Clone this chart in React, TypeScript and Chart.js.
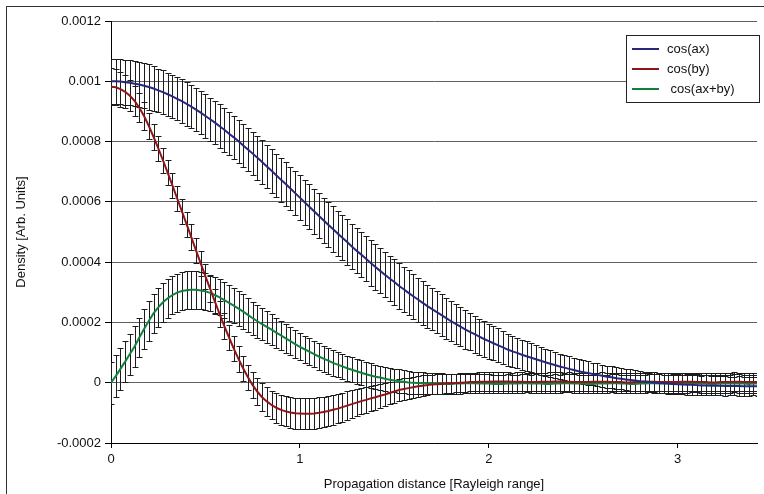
import React, { useEffect, useRef } from 'react';
import { Chart, registerables } from 'chart.js';

Chart.register(...registerables);

const UNIT = 1e-4; // series values below are in units of 1e-4 (Arb. Units)

const propagationDistance = [
  0, 0.025, 0.05, 0.075, 0.1, 0.125, 0.15, 0.175, 0.2, 0.225,
  0.25, 0.275, 0.3, 0.325, 0.35, 0.375, 0.4, 0.425, 0.45, 0.475,
  0.5, 0.525, 0.55, 0.575, 0.6, 0.625, 0.65, 0.675, 0.7, 0.725,
  0.75, 0.775, 0.8, 0.825, 0.85, 0.875, 0.9, 0.925, 0.95, 0.975,
  1, 1.025, 1.05, 1.075, 1.1, 1.125, 1.15, 1.175, 1.2, 1.225,
  1.25, 1.275, 1.3, 1.325, 1.35, 1.375, 1.4, 1.425, 1.45, 1.475,
  1.5, 1.525, 1.55, 1.575, 1.6, 1.625, 1.65, 1.675, 1.7, 1.725,
  1.75, 1.775, 1.8, 1.825, 1.85, 1.875, 1.9, 1.925, 1.95, 1.975,
  2, 2.025, 2.05, 2.075, 2.1, 2.125, 2.15, 2.175, 2.2, 2.225,
  2.25, 2.275, 2.3, 2.325, 2.35, 2.375, 2.4, 2.425, 2.45, 2.475,
  2.5, 2.525, 2.55, 2.575, 2.6, 2.625, 2.65, 2.675, 2.7, 2.725,
  2.75, 2.775, 2.8, 2.825, 2.85, 2.875, 2.9, 2.925, 2.95, 2.975,
  3, 3.025, 3.05, 3.075, 3.1, 3.125, 3.15, 3.175, 3.2, 3.225,
  3.25, 3.275, 3.3, 3.325, 3.35, 3.375, 3.4, 3.425,
];

const cosAx = [
  10.0, 10.0, 9.99, 9.97, 9.95, 9.92, 9.89, 9.85, 9.81, 9.76,
  9.70, 9.64, 9.57, 9.50, 9.42, 9.34, 9.25, 9.16, 9.06, 8.96,
  8.85, 8.74, 8.63, 8.51, 8.39, 8.26, 8.14, 8.01, 7.87, 7.74,
  7.60, 7.46, 7.32, 7.17, 7.03, 6.88, 6.73, 6.59, 6.44, 6.29,
  6.14, 5.99, 5.84, 5.69, 5.54, 5.39, 5.24, 5.10, 4.95, 4.81,
  4.67, 4.52, 4.38, 4.25, 4.11, 3.97, 3.84, 3.71, 3.58, 3.46,
  3.34, 3.21, 3.10, 2.98, 2.87, 2.76, 2.65, 2.54, 2.44, 2.34,
  2.24, 2.14, 2.04, 1.95, 1.86, 1.77, 1.69, 1.61, 1.53, 1.45,
  1.38, 1.31, 1.24, 1.17, 1.10, 1.04, 0.99, 0.93, 0.88, 0.83,
  0.78, 0.73, 0.68, 0.63, 0.59, 0.54, 0.50, 0.46, 0.42, 0.38,
  0.35, 0.32, 0.29, 0.26, 0.23, 0.20, 0.18, 0.15, 0.13, 0.11,
  0.09, 0.07, 0.05, 0.04, 0.02, 0.01, -0.01, -0.02, -0.03, -0.04,
  -0.05, -0.06, -0.07, -0.07, -0.08, -0.09, -0.09, -0.10, -0.10, -0.10,
  -0.11, -0.11, -0.11, -0.11, -0.12, -0.12, -0.12, -0.12,
];

const cosBy = [
  9.82, 9.80, 9.74, 9.65, 9.52, 9.35, 9.12, 8.85, 8.52, 8.16,
  7.78, 7.38, 6.97, 6.55, 6.12, 5.69, 5.26, 4.83, 4.39, 3.96,
  3.53, 3.11, 2.69, 2.28, 1.88, 1.50, 1.13, 0.79, 0.47, 0.18,
  -0.08, -0.30, -0.48, -0.62, -0.74, -0.83, -0.90, -0.95, -0.99, -1.01,
  -1.02, -1.03, -1.03, -1.02, -1.00, -0.97, -0.94, -0.90, -0.86, -0.81,
  -0.76, -0.71, -0.66, -0.61, -0.57, -0.52, -0.48, -0.43, -0.39, -0.34,
  -0.29, -0.24, -0.21, -0.18, -0.15, -0.12, -0.10, -0.08, -0.06, -0.05,
  -0.04, -0.03, -0.02, -0.01, 0.00, 0.01, 0.02, 0.02, 0.03, 0.03,
  0.03, 0.04, 0.04, 0.04, 0.04, 0.03, 0.03, 0.03, 0.02, 0.02,
  0.02, 0.03, 0.03, 0.03, 0.04, 0.04, 0.03, 0.03, 0.02, 0.02,
  0.02, 0.02, 0.03, 0.03, 0.03, 0.03, 0.02, 0.02, 0.02, 0.01,
  0.01, 0.02, 0.02, 0.03, 0.03, 0.03, 0.02, 0.02, 0.02, 0.02,
  0.02, 0.03, 0.03, 0.03, 0.02, 0.02, 0.02, 0.01, 0.01, 0.02,
  0.02, 0.02, 0.03, 0.03, 0.02, 0.02, 0.02, 0.02,
];

const cosAxBy = [
  0.00, 0.22, 0.46, 0.70, 0.95, 1.20, 1.50, 1.78, 2.05, 2.30,
  2.50, 2.67, 2.80, 2.91, 2.99, 3.04, 3.07, 3.08, 3.08, 3.06,
  3.03, 2.98, 2.91, 2.83, 2.74, 2.65, 2.56, 2.46, 2.36, 2.25,
  2.14, 2.04, 1.94, 1.85, 1.76, 1.66, 1.57, 1.47, 1.38, 1.28,
  1.19, 1.11, 1.03, 0.95, 0.87, 0.80, 0.73, 0.66, 0.60, 0.54,
  0.48, 0.43, 0.38, 0.33, 0.28, 0.24, 0.20, 0.17, 0.13, 0.10,
  0.07, 0.05, 0.03, 0.01, 0.00, -0.01, -0.02, -0.03, -0.03, -0.03,
  -0.03, -0.04, -0.04, -0.03, -0.03, -0.02, -0.02, -0.02, -0.03, -0.03,
  -0.03, -0.04, -0.04, -0.04, -0.03, -0.03, -0.03, -0.02, -0.02, -0.03,
  -0.03, -0.03, -0.04, -0.04, -0.03, -0.03, -0.02, -0.02, -0.03, -0.03,
  -0.03, -0.04, -0.04, -0.03, -0.03, -0.03, -0.02, -0.02, -0.03, -0.03,
  -0.04, -0.04, -0.03, -0.03, -0.02, -0.02, -0.03, -0.03, -0.03, -0.04,
  -0.04, -0.03, -0.03, -0.02, -0.02, -0.03, -0.03, -0.04, -0.04, -0.03,
  -0.03, -0.03, -0.02, -0.03, -0.03, -0.04, -0.03, -0.03,
];

const cosAxError = [
  0.75, 0.75, 0.75, 0.75, 0.75, 0.75, 0.75, 0.75, 0.75, 0.75,
  0.72, 0.72, 0.72, 0.72, 0.72, 0.72, 0.72, 0.72, 0.72, 0.72,
  0.72, 0.72, 0.72, 0.72, 0.72, 0.72, 0.72, 0.72, 0.72, 0.72,
  0.72, 0.72, 0.72, 0.72, 0.72, 0.72, 0.72, 0.72, 0.72, 0.72,
  0.75, 0.75, 0.75, 0.75, 0.75, 0.75, 0.75, 0.75, 0.75, 0.75,
  0.75, 0.75, 0.75, 0.75, 0.75, 0.75, 0.75, 0.75, 0.75, 0.75,
  0.75, 0.75, 0.75, 0.75, 0.75, 0.73, 0.72, 0.71, 0.70, 0.70,
  0.69, 0.68, 0.67, 0.66, 0.65, 0.64, 0.62, 0.61, 0.60, 0.59,
  0.58, 0.57, 0.56, 0.54, 0.53, 0.52, 0.51, 0.50, 0.49, 0.48,
  0.47, 0.46, 0.45, 0.44, 0.43, 0.42, 0.42, 0.41, 0.40, 0.40,
  0.39, 0.39, 0.38, 0.38, 0.37, 0.37, 0.36, 0.36, 0.35, 0.35,
  0.35, 0.34, 0.34, 0.33, 0.34, 0.34, 0.33, 0.33, 0.34, 0.33,
  0.33, 0.32, 0.33, 0.33, 0.32, 0.32, 0.33, 0.32, 0.31, 0.32,
  0.32, 0.31, 0.31, 0.32, 0.31, 0.31, 0.30, 0.31,
];

const cosByError = [
  0.62, 0.60, 0.58, 0.55, 0.52, 0.50, 0.48, 0.46, 0.44, 0.43,
  0.42, 0.42, 0.42, 0.42, 0.42, 0.42, 0.42, 0.42, 0.42, 0.42,
  0.42, 0.42, 0.42, 0.42, 0.42, 0.42, 0.42, 0.42, 0.42, 0.42,
  0.44, 0.45, 0.46, 0.47, 0.48, 0.49, 0.50, 0.50, 0.51, 0.51,
  0.52, 0.52, 0.52, 0.52, 0.51, 0.51, 0.50, 0.50, 0.49, 0.48,
  0.47, 0.46, 0.45, 0.44, 0.43, 0.42, 0.41, 0.40, 0.39, 0.38,
  0.37, 0.36, 0.36, 0.35, 0.35, 0.34, 0.34, 0.33, 0.33, 0.33,
  0.32, 0.32, 0.32, 0.31, 0.32, 0.32, 0.31, 0.31, 0.32, 0.31,
  0.31, 0.31, 0.32, 0.31, 0.31, 0.30, 0.31, 0.31, 0.30, 0.31,
  0.31, 0.30, 0.30, 0.31, 0.31, 0.30, 0.30, 0.31, 0.30, 0.30,
  0.31, 0.30, 0.30, 0.30, 0.31, 0.30, 0.30, 0.31, 0.30, 0.30,
  0.30, 0.31, 0.30, 0.30, 0.30, 0.31, 0.30, 0.30, 0.30, 0.30,
  0.31, 0.30, 0.30, 0.30, 0.30, 0.31, 0.30, 0.30, 0.30, 0.30,
  0.30, 0.30, 0.31, 0.30, 0.30, 0.30, 0.30, 0.30,
];

const cosAxByError = [
  0.70, 0.70, 0.69, 0.68, 0.68, 0.67, 0.66, 0.66, 0.65, 0.65,
  0.64, 0.64, 0.64, 0.63, 0.63, 0.63, 0.63, 0.63, 0.62, 0.62,
  0.62, 0.61, 0.61, 0.60, 0.60, 0.59, 0.58, 0.58, 0.57, 0.56,
  0.55, 0.54, 0.53, 0.52, 0.51, 0.50, 0.49, 0.48, 0.47, 0.46,
  0.45, 0.45, 0.44, 0.44, 0.44, 0.43, 0.43, 0.43, 0.42, 0.42,
  0.42, 0.42, 0.41, 0.41, 0.41, 0.41, 0.40, 0.40, 0.40, 0.40,
  0.39, 0.39, 0.38, 0.38, 0.37, 0.37, 0.36, 0.36, 0.35, 0.35,
  0.34, 0.34, 0.33, 0.33, 0.33, 0.32, 0.32, 0.32, 0.31, 0.31,
  0.31, 0.31, 0.30, 0.31, 0.31, 0.30, 0.30, 0.31, 0.30, 0.30,
  0.31, 0.30, 0.30, 0.30, 0.31, 0.30, 0.30, 0.30, 0.31, 0.30,
  0.30, 0.30, 0.31, 0.30, 0.30, 0.30, 0.30, 0.31, 0.30, 0.30,
  0.30, 0.31, 0.30, 0.30, 0.30, 0.30, 0.31, 0.30, 0.30, 0.30,
  0.30, 0.30, 0.31, 0.30, 0.30, 0.30, 0.30, 0.30, 0.31, 0.30,
  0.30, 0.30, 0.30, 0.31, 0.30, 0.30, 0.30, 0.30,
];

const seriesLabels = ['cos(ax)', 'cos(by)', ' cos(ax+by)'];
const seriesColors = ['#27277c', '#8c1619', '#12803c'];
const yTickLabels = ['-0.0002', '0', '0.0002', '0.0004', '0.0006', '0.0008', '0.001', '0.0012'];
const xTickLabels = ['0', '1', '2', '3'];
const xTitle = 'Propagation distance [Rayleigh range]';
const yTitle = 'Density [Arb. Units]';

const FONT = '"Liberation Sans", Arial, Helvetica, sans-serif';

const toPoints = (vals: number[]) =>
  vals.map((v, i) => ({ x: propagationDistance[i], y: v * UNIT }));

const errorBarPlugin = {
  id: 'errorBars',
  beforeDatasetsDraw(chart: any) {
    const { ctx, chartArea, scales } = chart;
    const xs = scales.x;
    const ys = scales.y;
    ctx.save();
    ctx.beginPath();
    ctx.rect(chartArea.left, chartArea.top - 1, chartArea.right - chartArea.left, chartArea.bottom - chartArea.top + 2);
    ctx.clip();
    ctx.strokeStyle = '#1c1c1c';
    ctx.lineWidth = 1;
    chart.data.datasets.forEach((ds: any) => {
      const errs: number[] = ds.errors;
      ds.data.forEach((pt: any, i: number) => {
        const e = errs[i] * UNIT;
        const px = Math.round(xs.getPixelForValue(pt.x)) + 0.5;
        const yt = Math.round(ys.getPixelForValue(pt.y + e)) + 0.5;
        const yb = Math.round(ys.getPixelForValue(pt.y - e)) + 0.5;
        ctx.beginPath();
        ctx.moveTo(px, yt);
        ctx.lineTo(px, yb);
        ctx.moveTo(px - 3, yt);
        ctx.lineTo(px + 3, yt);
        ctx.moveTo(px - 3, yb);
        ctx.lineTo(px + 3, yb);
        ctx.stroke();
      });
    });
    ctx.restore();
  },
};

const boxLegendPlugin = {
  id: 'boxLegend',
  afterDraw(chart: any) {
    const { ctx } = chart;
    ctx.save();
    const bx = 626.5, by = 35.5, bw = 133, bh = 67;
    ctx.fillStyle = '#ffffff';
    ctx.fillRect(bx, by, bw, bh);
    ctx.strokeStyle = '#222222';
    ctx.lineWidth = 1;
    ctx.strokeRect(bx, by, bw, bh);
    ctx.font = `13px ${FONT}`;
    ctx.textBaseline = 'middle';
    ctx.textAlign = 'left';
    seriesLabels.forEach((label, i) => {
      const yy = 49 + i * 20;
      ctx.strokeStyle = seriesColors[i];
      ctx.lineWidth = 2;
      ctx.beginPath();
      ctx.moveTo(632, yy);
      ctx.lineTo(659, yy);
      ctx.stroke();
      ctx.fillStyle = '#111111';
      ctx.fillText(label, 667, yy + 0.5);
    });
    // outer frame
    ctx.strokeStyle = '#333333';
    ctx.lineWidth = 1;
    ctx.strokeRect(6.5, 6.5, 900, 700);
    ctx.restore();
  },
};

export default function App() {
  const canvasRef = useRef<HTMLCanvasElement | null>(null);

  useEffect(() => {
    const canvas = canvasRef.current;
    if (!canvas) return;
    const datasets = [cosAx, cosBy, cosAxBy].map((vals, i) => ({
      label: seriesLabels[i],
      data: toPoints(vals),
      errors: [cosAxError, cosByError, cosAxByError][i],
      borderColor: seriesColors[i],
      backgroundColor: seriesColors[i],
      borderWidth: 2,
      pointRadius: 0,
      tension: 0,
      fill: false,
    }));

    const chart = new Chart(canvas, {
      type: 'line',
      data: { datasets } as any,
      plugins: [errorBarPlugin, boxLegendPlugin],
      options: {
        animation: false,
        responsive: false,
        devicePixelRatio: 1,
        layout: { padding: { top: 21, right: 7, left: 0, bottom: 0 } },
        plugins: {
          legend: { display: false },
          tooltip: { enabled: false },
        },
        scales: {
          x: {
            type: 'linear',
            min: 0,
            max: 3.42,
            ticks: {
              stepSize: 1,
              includeBounds: false,
              autoSkip: false,
              maxRotation: 0,
              color: '#111111',
              padding: 4,
              font: { size: 13, family: FONT },
              callback: (v: any) => {
                const idx = xTickLabels.indexOf(String(v));
                return idx >= 0 ? xTickLabels[idx] : '';
              },
            },
            grid: { drawOnChartArea: false, drawTicks: true, tickLength: 5, tickColor: '#000000' },
            border: { color: '#000000', width: 1 },
            title: {
              display: true,
              text: xTitle,
              color: '#111111',
              font: { size: 13, family: FONT },
              padding: { top: 0, bottom: 2 },
            },
            afterFit: (s: any) => { s.height = 51; },
          },
          y: {
            type: 'linear',
            min: -0.0002,
            max: 0.0012,
            ticks: {
              stepSize: 0.0002,
              color: '#111111',
              padding: 4,
              font: { size: 13, family: FONT },
              callback: (_v: any, i: number) => yTickLabels[i] ?? '',
            },
            grid: { color: '#606060', lineWidth: 1, tickLength: 6, tickColor: '#000000' },
            border: { color: '#000000', width: 1 },
            title: {
              display: true,
              text: yTitle,
              color: '#111111',
              font: { size: 13, family: FONT },
              padding: { top: 14, bottom: 0 },
            },
            afterFit: (s: any) => { s.width = 111; },
          },
        },
      } as any,
    });
    return () => chart.destroy();
  }, []);

  return (
    <div style={{ position: 'absolute', left: 0, top: 0, width: 764, height: 494, background: '#ffffff' }}>
      <canvas ref={canvasRef} width={764} height={494} style={{ display: 'block' }} />
    </div>
  );
}
